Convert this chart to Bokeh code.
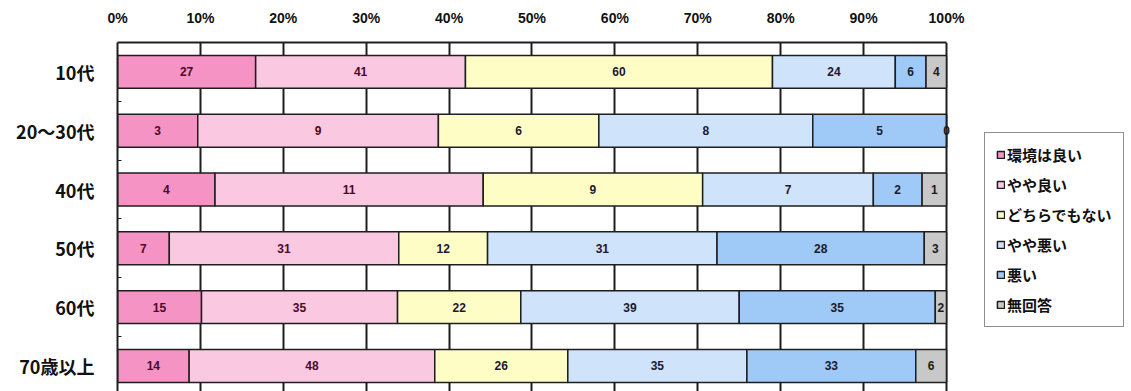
from bokeh.plotting import figure
from bokeh.models import ColumnDataSource, Range1d, FixedTicker, Legend, LegendItem
from bokeh.core.properties import value
from bokeh.embed import file_html
from bokeh.resources import INLINE

# ---- data ----
groups = ["10代", "20〜30代", "40代", "50代", "60代", "70歳以上"]
answers = ["環境は良い", "やや良い", "どちらでもない", "やや悪い", "悪い", "無回答"]
good = [27, 3, 4, 7, 15, 14]
rather_good = [41, 9, 11, 31, 35, 48]
neutral = [60, 6, 9, 12, 22, 26]
rather_bad = [24, 8, 7, 31, 39, 35]
bad = [6, 5, 2, 28, 35, 33]
no_answer = [4, 0, 1, 3, 2, 6]
x_ticks = [0, 10, 20, 30, 40, 50, 60, 70, 80, 90, 100]
x_tick_labels = ["0%", "10%", "20%", "30%", "40%", "50%", "60%", "70%", "80%", "90%", "100%"]

colors = ["#F594C4", "#FAC8E1", "#FFFDC6", "#CFE3FB", "#9FC9F6", "#C8C8C8"]
text_colors = ["#4A0A28", "#4A0A28", "#1A1A2E", "#1A1A2E", "#1A1A2E", "#1A1A1A"]

series = [good, rather_good, neutral, rather_bad, bad, no_answer]
keys = ["s0", "s1", "s2", "s3", "s4", "s5"]
ypos = list(range(len(groups)))
totals = [sum(v) for v in zip(*series)]

data = {"y": ypos}
for k, s in zip(keys, series):
    data[k] = [100.0 * v / t for v, t in zip(s, totals)]
source = ColumnDataSource(data)

# frame spans the bars (0-100 %) plus room on the right for the legend
p = figure(width=1131, height=391, output_backend="svg", toolbar_location=None,
           x_range=Range1d(0, 122.32), y_range=Range1d(5.435, -0.5),
           min_border_left=117, min_border_right=0, min_border_top=42, min_border_bottom=0,
           x_axis_location="above")
p.outline_line_color = None
p.background_fill_color = "white"

renderers = p.hbar_stack(keys, y="y", height=0.56, color=colors, source=source,
                         line_color="#1E1E1E", line_width=1.5)

# segment labels
for i, (k, s) in enumerate(zip(keys, series)):
    xs, ys, txt = [], [], []
    for j in range(len(groups)):
        left = sum(data[kk][j] for kk in keys[:i])
        xs.append(left + data[k][j] / 2.0)
        ys.append(ypos[j])
        txt.append(str(s[j]))
    p.text(x=xs, y=ys, text=txt, text_align="center", text_baseline="middle",
           text_font=value("Liberation Sans"), text_font_style="bold",
           text_font_size="12px", text_color=text_colors[i])

# grid
p.xgrid.ticker = FixedTicker(ticks=x_ticks)
p.xgrid.grid_line_color = "#1E1E1E"
p.xgrid.grid_line_width = 2
p.ygrid.grid_line_color = None

# x axis (top)
xa = p.xaxis[0]
xa.ticker = FixedTicker(ticks=x_ticks)
xa.bounds = (0, 100)
xa.major_label_overrides = {t: l for t, l in zip(x_ticks, x_tick_labels)}
xa.major_label_text_font = "Liberation Sans"
xa.major_label_text_font_style = "bold"
xa.major_label_text_font_size = "14px"
xa.major_label_text_color = "#111111"
xa.major_tick_line_color = None
xa.minor_tick_line_color = None
xa.axis_line_color = "#1E1E1E"
xa.axis_line_width = 2
xa.major_label_standoff = 11

# y axis (left)
ya = p.yaxis[0]
ya.ticker = FixedTicker(ticks=ypos, minor_ticks=[y + 0.5 for y in ypos])
ya.major_label_overrides = {y: g for y, g in zip(ypos, groups)}
ya.major_label_text_font = "Noto Sans CJK JP"
ya.major_label_text_font_style = "bold"
ya.major_label_text_font_size = "18px"
ya.major_label_text_color = "#111111"
ya.major_tick_line_color = None
ya.minor_tick_line_color = "#1E1E1E"
ya.minor_tick_in = 4
ya.minor_tick_out = 0
ya.axis_line_color = "#1E1E1E"
ya.axis_line_width = 2
ya.major_label_standoff = 17

legend = Legend(items=[LegendItem(label=a, renderers=[r]) for a, r in zip(answers, renderers)],
                location=(867, 64), orientation="vertical")
legend.border_line_color = "#1E1E1E"
legend.border_line_width = 1.5
legend.background_fill_color = "white"
legend.background_fill_alpha = 1
legend.label_text_font = "Noto Sans CJK JP"
legend.label_text_font_style = "bold"
legend.label_text_font_size = "15px"
legend.label_text_color = "#111111"
legend.glyph_width = 9
legend.glyph_height = 9
legend.label_height = 18
legend.spacing = 9
legend.padding = 11
legend.margin = 0
legend.label_standoff = 2
p.add_layout(legend)

open("out.html", "w").write(file_html(p, INLINE))
